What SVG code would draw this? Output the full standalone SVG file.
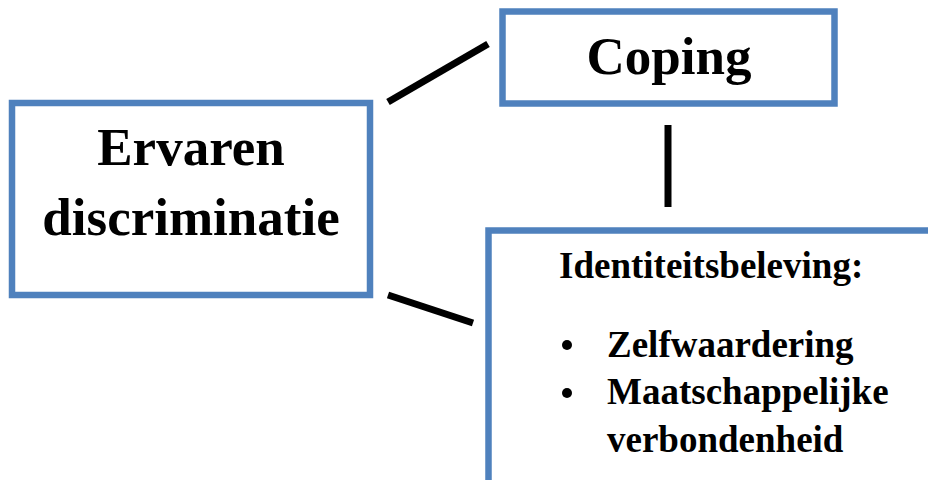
<svg xmlns="http://www.w3.org/2000/svg" width="928" height="480" viewBox="0 0 928 480">
<style>
.box{fill:#fff;stroke:#4f81bd;stroke-width:6.5}
.t{font-family:"Liberation Serif","Times New Roman",serif;font-weight:bold;fill:#000}
.big{font-size:53px}
.sm{font-size:37px}
.c{stroke:#000;stroke-width:7;fill:none}
</style>
<rect width="928" height="480" fill="#fff"/>
<g id="connectors">
<line class="c" x1="388" y1="102" x2="488" y2="44"/>
<line class="c" x1="388" y1="295" x2="473" y2="323"/>
<line class="c" x1="668" y1="125" x2="668" y2="207"/>
</g>
<g id="ervaren">
<rect class="box" x="12" y="103" width="358" height="192"/>
<text class="t big" x="191" y="165" text-anchor="middle">Ervaren</text>
<text class="t big" x="191" y="235" text-anchor="middle">discriminatie</text>
</g>
<g id="coping">
<rect class="box" x="502.5" y="11.5" width="332" height="92"/>
<text class="t big" x="669" y="74" text-anchor="middle">Coping</text>
</g>
<g id="identiteit">
<rect class="box" x="488.5" y="230.5" width="460" height="270"/>
<text class="t sm" x="559" y="278">Identiteitsbeleving:</text>
<circle cx="567" cy="345" r="5"/>
<text class="t sm" x="607" y="357">Zelfwaardering</text>
<circle cx="567" cy="393" r="5"/>
<text class="t sm" x="607" y="404">Maatschappelijke</text>
<text class="t sm" x="607" y="452">verbondenheid</text>
</g>
</svg>
